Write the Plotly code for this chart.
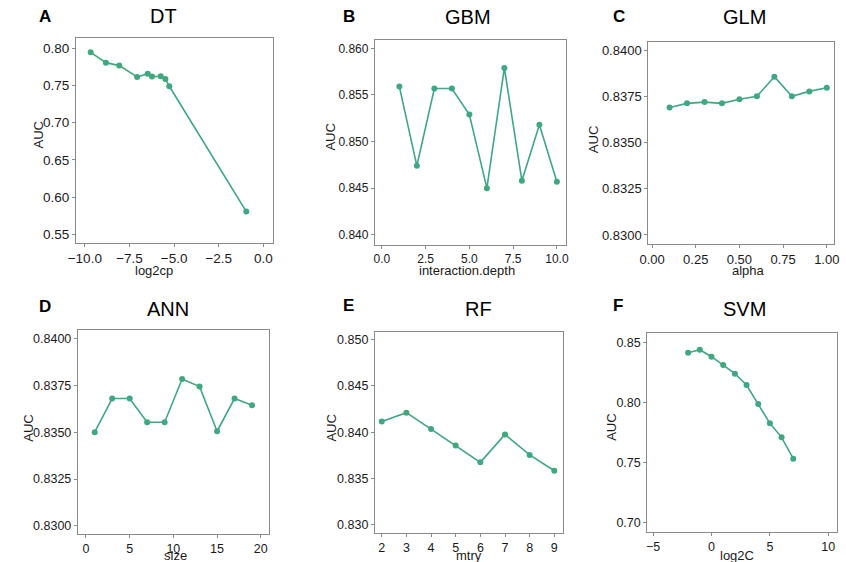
import plotly.graph_objects as go

# ---------------- data ----------------
dt_log2cp = [-9.67, -8.82, -8.07, -7.07, -6.48, -6.24, -5.75, -5.49, -5.27, -0.96]
dt_auc = [0.7946, 0.7807, 0.7767, 0.7615, 0.7659, 0.7619, 0.7624, 0.7588, 0.7489, 0.5805]

gbm_depth = [1, 2, 3, 4, 5, 6, 7, 8, 9, 10]
gbm_auc = [0.8559, 0.8474, 0.8557, 0.8557, 0.8529, 0.8450, 0.8579, 0.8458, 0.8518, 0.8457]

glm_alpha = [0.1, 0.2, 0.3, 0.4, 0.5, 0.6, 0.7, 0.8, 0.9, 1.0]
glm_auc = [0.83692, 0.83714, 0.83721, 0.83714, 0.83736, 0.83752, 0.83859, 0.83752, 0.83779, 0.83799]

ann_size = [1, 3, 5, 7, 9, 11, 13, 15, 17, 19]
ann_auc = [0.83501, 0.83681, 0.83681, 0.83554, 0.83554, 0.83786, 0.83745, 0.83506, 0.83681, 0.83645]

rf_mtry = [2, 3, 4, 5, 6, 7, 8, 9]
rf_auc = [0.84116, 0.84211, 0.84033, 0.83855, 0.83673, 0.83975, 0.83753, 0.83582]

svm_log2c = [-2, -1, 0, 1, 2, 3, 4, 5, 6, 7]
svm_auc = [0.84142, 0.84391, 0.83810, 0.83118, 0.82398, 0.81457, 0.79880, 0.78274, 0.77112, 0.75340]

panel_letters = ["A", "B", "C", "D", "E", "F"]
panel_titles = ["DT", "GBM", "GLM", "ANN", "RF", "SVM"]
x_titles = ["log2cp", "interaction.depth", "alpha", "size", "mtry", "log2C"]
y_title = "AUC"

x_ticks = [
    [-10, -7.5, -5, -2.5, 0],
    [0, 2.5, 5, 7.5, 10],
    [0, 0.25, 0.5, 0.75, 1.0],
    [0, 5, 10, 15, 20],
    [2, 3, 4, 5, 6, 7, 8, 9],
    [-5, 0, 5, 10],
]
x_fmt = [".1f", ".1f", ".2f", "d", "d", "d"]
y_ticks = [
    [0.55, 0.60, 0.65, 0.70, 0.75, 0.80],
    [0.840, 0.845, 0.850, 0.855, 0.860],
    [0.8300, 0.8325, 0.8350, 0.8375, 0.8400],
    [0.8300, 0.8325, 0.8350, 0.8375, 0.8400],
    [0.830, 0.835, 0.840, 0.845, 0.850],
    [0.70, 0.75, 0.80, 0.85],
]
y_fmt = [".2f", ".3f", ".4f", ".4f", ".3f", ".2f"]

# ---------------- layout geometry (pixels) ----------------
W, H = 846, 562
x_ranges = [[-10.5, 0.51], [-0.4, 10.5], [-0.022, 1.042], [-0.93, 20.9], [1.72, 9.34], [-5.5, 10.75]]
y_ranges = [[0.5383, 0.8138], [0.8389, 0.8609], [0.82951, 0.84047], [0.82956, 0.84048], [0.82908, 0.85084], [0.6925, 0.8578]]
boxes = [  # left, right, top, bottom
    (68, 268, 38, 243),
    (372, 566, 40, 245),
    (650, 839, 42, 244),
    (70, 264, 330, 534),
    (372, 563, 332, 533),
    (649, 842, 333, 532),
]
tick_sizes = [13.5, 12, 13, 12.5, 12.5, 12.5]
letter_pos = [(37, 17), (346, 17), (620, 17), (37, 306), (345, 305), (619, 305)]
title_pos = [(157, 16), (467, 17), (748, 17), (162, 309), (477, 309), (748, 309)]
ytitle_pos = [(29, 135), (327, 137), (594, 140), (19, 428), (327, 428), (612, 427)]
xtitle_pos = [(147, 270), (466, 270), (752, 270), (169, 555), (468, 555), (740, 555)]

COLOR = "#3fa880"
FONT = "Liberation Sans, Arial, sans-serif"

def px(x):
    return x / W

def py(y):
    return 1 - y / H

series = [(dt_log2cp, dt_auc), (gbm_depth, gbm_auc), (glm_alpha, glm_auc),
          (ann_size, ann_auc), (rf_mtry, rf_auc), (svm_log2c, svm_auc)]

fig = go.Figure()
layout = dict(
    width=W, height=H, margin=dict(l=0, r=0, t=0, b=0),
    paper_bgcolor="white", plot_bgcolor="white", showlegend=False,
    font=dict(family=FONT, color="#1a1a1a", size=12),
)
annotations = []
for i, (xs, ys) in enumerate(series):
    sfx = "" if i == 0 else str(i + 1)
    fig.add_trace(go.Scatter(x=xs, y=ys, mode="lines+markers",
                             line=dict(color=COLOR, width=1.6),
                             marker=dict(color=COLOR, size=6),
                             xaxis="x" + sfx, yaxis="y" + sfx, hoverinfo="skip"))
    l, r, t, b = boxes[i]
    axcommon = dict(showline=True, mirror=True, linecolor="#8a8a8a", linewidth=1,
                    showgrid=False, zeroline=False, ticks="outside", ticklen=3,
                    tickcolor="#8a8a8a",
                    tickfont=dict(size=tick_sizes[i], color="#1a1a1a", family=FONT))
    layout["xaxis" + sfx] = dict(domain=[px(l), px(r)], range=x_ranges[i],
                                 tickvals=x_ticks[i], tickformat=x_fmt[i],
                                 anchor="y" + sfx, **axcommon)
    layout["yaxis" + sfx] = dict(domain=[py(b), py(t)], range=y_ranges[i],
                                 tickvals=y_ticks[i], tickformat=y_fmt[i],
                                 anchor="x" + sfx, **axcommon)
    lx, ly = letter_pos[i]
    annotations.append(dict(text="<b>" + panel_letters[i] + "</b>", x=px(lx), y=py(ly),
                            xref="paper", yref="paper", showarrow=False,
                            xanchor="center", yanchor="middle",
                            font=dict(size=17, color="black", family=FONT)))
    tx, ty = title_pos[i]
    annotations.append(dict(text=panel_titles[i], x=px(tx), y=py(ty),
                            xref="paper", yref="paper", showarrow=False,
                            xanchor="center", yanchor="middle",
                            font=dict(size=20, color="black", family=FONT)))
    yx, yy = ytitle_pos[i]
    annotations.append(dict(text=y_title, x=px(yx), y=py(yy), textangle=-90,
                            xref="paper", yref="paper", showarrow=False,
                            xanchor="center", yanchor="middle",
                            font=dict(size=13, color="#1a1a1a", family=FONT)))
    xx, xy = xtitle_pos[i]
    annotations.append(dict(text=x_titles[i], x=px(xx), y=py(xy),
                            xref="paper", yref="paper", showarrow=False,
                            xanchor="center", yanchor="middle",
                            font=dict(size=13, color="#1a1a1a", family=FONT)))

layout["annotations"] = annotations
fig.update_layout(**layout)
fig.write_html("out.html", config={"displayModeBar": False},
               post_script="document.body.style.margin='0';document.body.style.overflow='hidden';")
